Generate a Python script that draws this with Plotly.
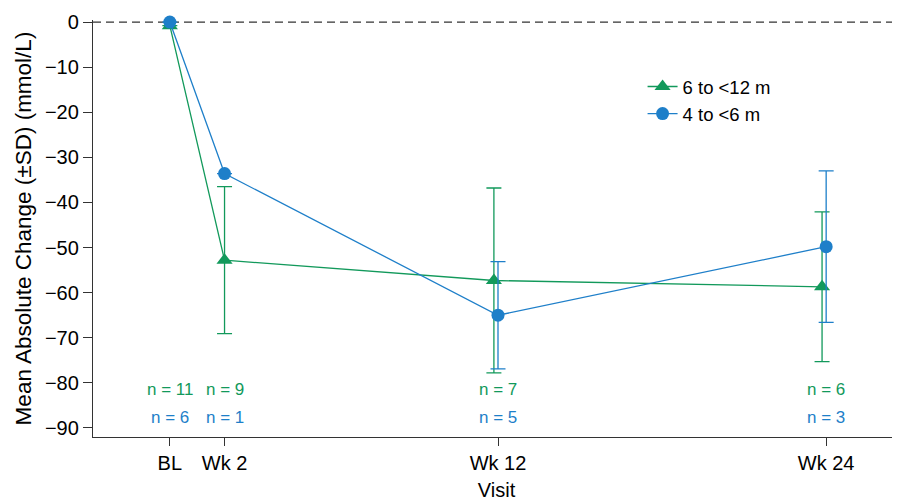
import plotly.graph_objects as go

# Data
visit_labels = ["BL", "Wk 2", "Wk 12", "Wk 24"]
visit_weeks = [0, 2, 12, 24]

green_name = "6 to <12 m"
green_mean = [-0.8, -52.8, -57.3, -58.7]
green_sd = [0.0, 16.3, 20.5, 16.6]
green_n = ["n = 11", "n = 9", "n = 7", "n = 6"]

blue_name = "4 to <6 m"
blue_mean = [0.0, -33.6, -65.0, -49.8]
blue_sd = [0.0, 0.0, 11.9, 16.8]
blue_n = ["n = 6", "n = 1", "n = 5", "n = 3"]

# style
GREEN = "#12995b"
BLUE = "#1e7fc9"
green_dodge = [0, 0, -0.15, -0.15]
blue_dodge = [0, 0, 0, 0]
FONT = "Liberation Sans, Arial, sans-serif"

gx = [w + d for w, d in zip(visit_weeks, green_dodge)]
bx = [w + d for w, d in zip(visit_weeks, blue_dodge)]

fig = go.Figure()
fig.add_trace(go.Scatter(
    x=gx, y=green_mean, name=green_name, mode="lines+markers", legendgroup="g",
    line=dict(color=GREEN, width=1.3),
    marker=dict(symbol="triangle-up", size=14, color=GREEN),
    error_y=dict(type="data", array=[s if s > 0 else None for s in green_sd],
                 visible=True, color=GREEN, thickness=1.3, width=7.5),
    cliponaxis=False,
))
fig.add_trace(go.Scatter(
    x=bx, y=blue_mean, name=blue_name, mode="lines+markers", legendgroup="b",
    line=dict(color=BLUE, width=1.3),
    marker=dict(symbol="circle", size=13, color=BLUE),
    error_y=dict(type="data", array=[s if s > 0 else None for s in blue_sd],
                 visible=True, color=BLUE, thickness=1.3, width=7.5),
    cliponaxis=False,
))

fig.add_shape(type="line", xref="paper", yref="y", x0=0, x1=1, y0=0, y1=0,
              line=dict(color="#333333", width=1.3, dash="8px,5px"), layer="below")

for w, t in zip(visit_weeks, green_n):
    fig.add_annotation(x=w, y=-81.4, text=t, showarrow=False,
                       font=dict(family=FONT, size=17, color=GREEN))
for w, t in zip(visit_weeks, blue_n):
    fig.add_annotation(x=w, y=-87.6, text=t, showarrow=False,
                       font=dict(family=FONT, size=17, color=BLUE))

fig.update_layout(
    width=900, height=503,
    margin=dict(l=85, r=8, t=12, b=74),
    paper_bgcolor="white", plot_bgcolor="white",
    font=dict(family=FONT, size=19, color="black"),
    showlegend=True,
    legend=dict(x=0.681, y=0.885, xanchor="left", yanchor="top",
                font=dict(family=FONT, size=18.5, color="black"),
                bgcolor="rgba(0,0,0,0)", tracegroupgap=0),
    xaxis=dict(range=[-2.81, 26.7], tickmode="array", tickvals=visit_weeks,
               ticktext=visit_labels, showgrid=False, zeroline=False, automargin=False,
               showline=True, linecolor="#333333", linewidth=1.3,
               ticks="outside", ticklen=8, tickwidth=1.3, tickcolor="#333333",
               tickfont=dict(family=FONT, size=20, color="black"),
               title=dict(text="Visit", font=dict(family=FONT, size=20, color="black"), standoff=9)),
    yaxis=dict(range=[-92, 0.45], tickmode="array",
               tickvals=[0, -10, -20, -30, -40, -50, -60, -70, -80, -90],
               showgrid=False, zeroline=False, automargin=False,
               showline=True, linecolor="#333333", linewidth=1.3,
               ticks="outside", ticklen=9, tickwidth=1.3, tickcolor="#333333",
               tickfont=dict(family=FONT, size=20, color="black"),
               title=dict(text="Mean Absolute Change (±SD) (mmol/L)",
                          font=dict(family=FONT, size=22.5, color="black"), standoff=7)),
)

fig.write_html("out.html")
